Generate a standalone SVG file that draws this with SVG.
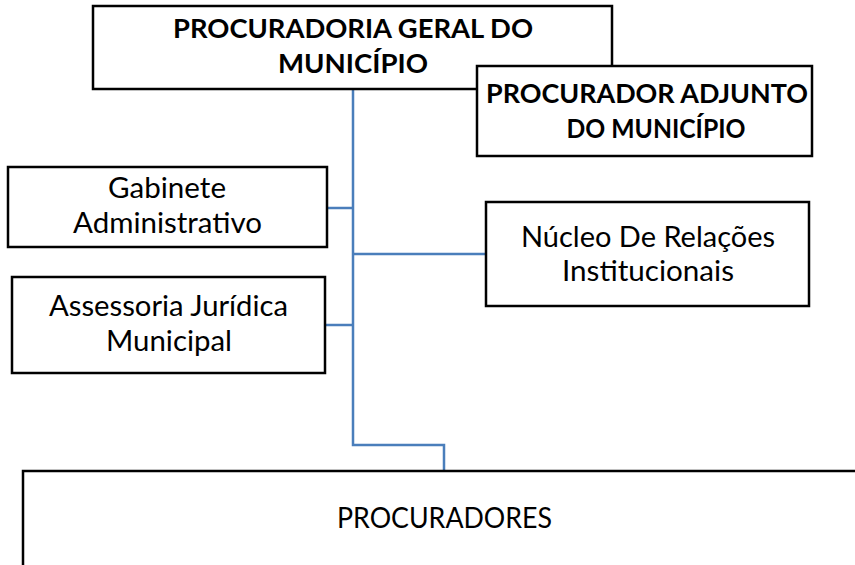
<svg xmlns="http://www.w3.org/2000/svg" width="855" height="565" viewBox="0 0 855 565">
<style>
.box{fill:#fff;stroke:#000;stroke-width:2.5}
.t{font-family:Lato,"Open Sans",sans-serif;font-size:28px;fill:#000;text-anchor:middle}
.b{font-weight:bold;font-size:27px}
.c{fill:none;stroke:#4a7ebb;stroke-width:2.5}
</style>
<rect width="855" height="565" fill="#fff"/>
<g id="connectors">
<path class="c" d="M353 89V445H444V471"/>
<path class="c" d="M327 208H353"/>
<path class="c" d="M325 325H353"/>
<path class="c" d="M353 254H486"/>
</g>
<g id="procuradoria">
<rect class="box" x="93" y="6" width="519" height="83"/>
<text class="t b" x="353" y="38" textLength="360" lengthAdjust="spacingAndGlyphs">PROCURADORIA GERAL DO</text>
<text class="t b" x="353" y="73" textLength="150" lengthAdjust="spacingAndGlyphs">MUNICÍPIO</text>
</g>
<g id="adjunto">
<rect class="box" x="477" y="66" width="335" height="90"/>
<text class="t b" x="647" y="103" textLength="322" lengthAdjust="spacingAndGlyphs">PROCURADOR ADJUNTO</text>
<text class="t b" x="656" y="138" textLength="179" lengthAdjust="spacingAndGlyphs">DO MUNICÍPIO</text>
</g>
<g id="gabinete">
<rect class="box" x="8" y="167" width="319" height="80"/>
<text class="t" x="167" y="198" textLength="118" lengthAdjust="spacingAndGlyphs">Gabinete</text>
<text class="t" x="167.5" y="233" textLength="189" lengthAdjust="spacingAndGlyphs">Administrativo</text>
</g>
<g id="assessoria">
<rect class="box" x="12" y="277" width="313" height="96"/>
<text class="t" x="168.5" y="316" textLength="239" lengthAdjust="spacingAndGlyphs">Assessoria Jurídica</text>
<text class="t" x="169" y="351" textLength="126" lengthAdjust="spacingAndGlyphs">Municipal</text>
</g>
<g id="nucleo">
<rect class="box" x="486" y="202" width="323" height="104"/>
<text class="t" x="648" y="247" textLength="254" lengthAdjust="spacingAndGlyphs">Núcleo De Relações</text>
<text class="t" x="648" y="281" textLength="172" lengthAdjust="spacingAndGlyphs">Institucionais</text>
</g>
<g id="procuradores">
<rect class="box" x="23" y="471" width="840" height="100"/>
<text class="t" x="444.5" y="528" textLength="215" lengthAdjust="spacingAndGlyphs">PROCURADORES</text>
</g>
</svg>
